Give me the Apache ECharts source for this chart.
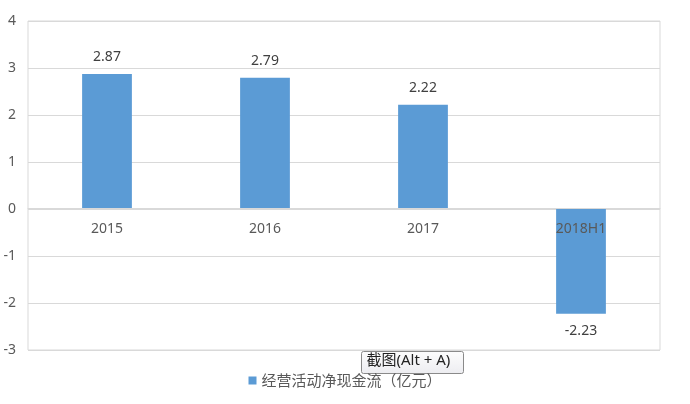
<!DOCTYPE html>
<html><head><meta charset="utf-8">
<script src="https://cdn.jsdelivr.net/npm/echarts@6/dist/echarts.min.js"></script>
<style>html,body{margin:0;padding:0;background:#fff}#c{width:690px;height:404px}</style>
</head><body><div id="c"></div>
<script>
var categories = ['2015', '2016', '2017', '2018H1'];
var values = [2.87, 2.79, 2.22, -2.23];
var seriesName = '经营活动净现金流（亿元）';
var yTicks = {min: -3, max: 4, interval: 1};
var tipText = '截图(Alt + A)';

var font = '"Noto Sans", "Noto Sans CJK SC", sans-serif';
var chart = echarts.init(document.getElementById('c'), null, {renderer: 'canvas'});
chart.setOption({
  animation: false,
  textStyle: {fontFamily: font},
  grid: {left: 28, right: 30, top: 21, bottom: 54, show: true, borderColor: '#d9d9d9', borderWidth: 1},
  legend: {
    bottom: 11, left: 'center', itemWidth: 8, itemHeight: 8, itemGap: 6,
    icon: 'rect',
    textStyle: {color: '#595959', fontSize: 15, fontFamily: '"Noto Sans CJK SC", sans-serif'},
    data: [seriesName]
  },
  xAxis: {
    type: 'category', data: categories,
    offset: -142, z: 10,
    axisLine: {onZero: false, lineStyle: {color: '#d9d9d9'}},
    axisTick: {show: false},
    axisLabel: {color: '#595959', fontSize: 14, margin: 14}
  },
  yAxis: {
    type: 'value', min: yTicks.min, max: yTicks.max, interval: yTicks.interval,
    axisLine: {show: false}, axisTick: {show: false},
    axisLabel: {color: '#595959', fontSize: 14, margin: 12},
    splitLine: {lineStyle: {color: '#d9d9d9'}}
  },
  series: [{
    name: seriesName, type: 'bar', data: values, barWidth: '31.5%', z: 2,
    itemStyle: {color: '#5b9bd5'},
    label: {show: true, position: 'outside', color: '#404040', fontSize: 14, distance: 10,
      formatter: function(p){ return p.value.toFixed(2); }}
  }],
  graphic: [{
    type: 'group', left: 361, top: 351, z: 100,
    children: [
      {type: 'rect', shape: {x: 0, y: 0, width: 102, height: 22, r: 2},
       style: {fill: {type: 'linear', x: 0, y: 0, x2: 0, y2: 1, colorStops: [{offset: 0, color: '#fdfdfd'}, {offset: 1, color: '#ececf0'}]}, stroke: '#8a8a8a', lineWidth: 1}},
      {type: 'text', left: 5, top: 2, style: {text: tipText, fill: '#222', fontSize: 15, fontFamily: '"Noto Sans", "Noto Sans CJK SC", sans-serif'}}
    ]
  }]
});
</script></body></html>
